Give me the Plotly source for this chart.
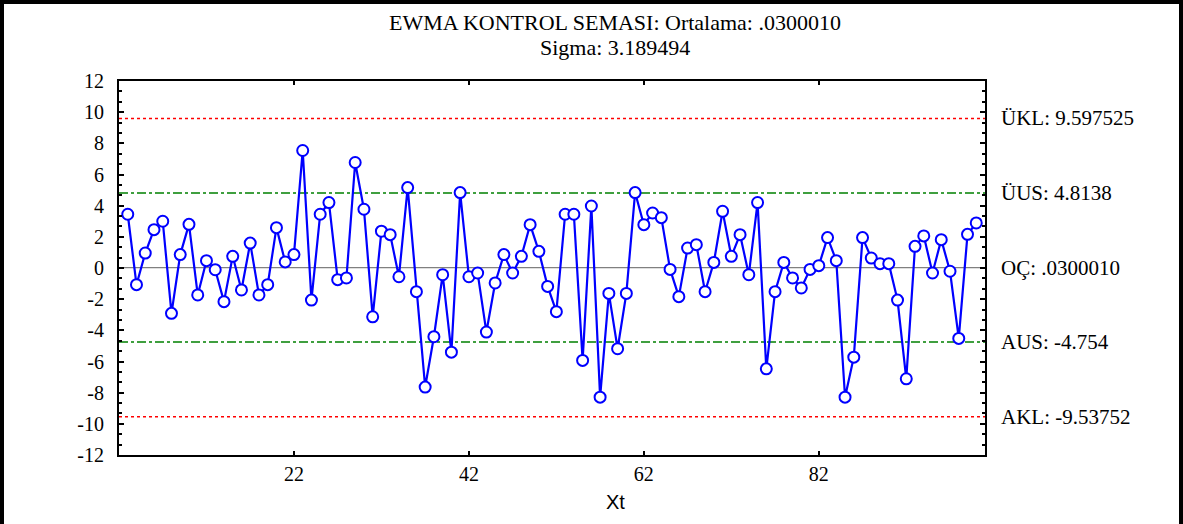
import plotly.graph_objects as go

# ---- data ----
x_vals = list(range(3, 101))
ewma = [3.45, -1.07, 0.96, 2.46, 3.0, -2.91, 0.86, 2.8, -1.73, 0.47,
        -0.11, -2.16, 0.75, -1.41, 1.6, -1.73, -1.07, 2.59, 0.39, 0.86,
        7.54, -2.06, 3.45, 4.2, -0.75, -0.64, 6.77, 3.77, -3.13, 2.36,
        2.14, -0.56, 5.16, -1.52, -7.64, -4.41, -0.43, -5.4, 4.84, -0.56,
        -0.32, -4.11, -0.96, 0.86, -0.32, 0.75, 2.78, 1.07, -1.18, -2.8,
        3.45, 3.45, -5.93, 3.98, -8.29, -1.63, -5.18, -1.63, 4.84, 2.78,
        3.53, 3.23, -0.09, -1.84, 1.28, 1.5, -1.52, 0.36, 3.64, 0.75,
        2.14, -0.43, 4.2, -6.47, -1.52, 0.36, -0.64, -1.28, -0.09, 0.15,
        1.95, 0.47, -8.29, -5.72, 1.95, 0.64, 0.28, 0.28, -2.06, -7.11,
        1.39, 2.06, -0.32, 1.82, -0.21, -4.52, 2.16, 2.89]

limit_values = [9.597525, 4.8138, 0.0300010, -4.754, -9.53752]
limit_labels = ["ÜKL: 9.597525", "ÜUS: 4.8138", "OÇ: .0300010", "AUS: -4.754", "AKL: -9.53752"]
limit_colors = ["red", "green", "gray", "green", "red"]
limit_dash = ["dot", "dashdot", "solid", "dashdot", "dot"]

x_ticks = [22, 42, 62, 82]
y_ticks = list(range(-12, 13, 2))
title1 = "EWMA KONTROL SEMASI: Ortalama: .0300010"
title2 = "Sigma: 3.189494"
x_title = "Xt"

# ---- layout geometry ----
W, H = 1183, 524
ML, MR, MT, MB = 119, W - 985, 81, H - 455
PW, PH = W - ML - MR, H - MT - MB


def px_to_paper_x(px):
    return (px - ML) / PW


def py_to_paper_y(py):
    return (H - MB - py) / PH


SERIF = "Liberation Serif, Times New Roman, Times, serif"
SANS = "Liberation Sans, Arial, sans-serif"

fig = go.Figure()

fig.add_trace(go.Scatter(
    x=x_vals, y=ewma, mode="lines+markers",
    line=dict(color="#0000ff", width=2.2),
    marker=dict(symbol="circle", size=11, color="white",
                line=dict(color="#0000ff", width=2)),
    showlegend=False, hoverinfo="x+y", cliponaxis=False,
))

shapes = []
annotations = []
for v, lab, c, d in zip(limit_values, limit_labels, limit_colors, limit_dash):
    shapes.append(dict(type="line", xref="paper", yref="y", x0=0, x1=1, y0=v, y1=v,
                       line=dict(color=c, width=1.5 if c != "gray" else 1.3, dash=d),
                       layer="below"))
    annotations.append(dict(xref="paper", yref="y", x=1, y=v, xanchor="left", yanchor="middle",
                            xshift=14, text=lab, showarrow=False,
                            font=dict(family=SERIF, size=21, color="black")))

# outer frame (left, top, right)
x_l, x_r = px_to_paper_x(2), px_to_paper_x(W - 2)
y_t, y_b = py_to_paper_y(2), py_to_paper_y(H + 10)
shapes.append(dict(type="path", xref="paper", yref="paper",
                   path=f"M {x_l} {y_b} L {x_l} {y_t} L {x_r} {y_t} L {x_r} {y_b}",
                   line=dict(color="black", width=4)))

annotations.append(dict(xref="paper", yref="paper", x=px_to_paper_x(615), y=py_to_paper_y(22),
                        text=title1, showarrow=False, xanchor="center", yanchor="middle",
                        font=dict(family=SERIF, size=22, color="black")))
annotations.append(dict(xref="paper", yref="paper", x=px_to_paper_x(615), y=py_to_paper_y(47),
                        text=title2, showarrow=False, xanchor="center", yanchor="middle",
                        font=dict(family=SERIF, size=22, color="black")))
annotations.append(dict(xref="paper", yref="paper", x=px_to_paper_x(615), y=py_to_paper_y(502),
                        text=x_title, showarrow=False, xanchor="center", yanchor="middle",
                        font=dict(family=SANS, size=20, color="black")))

fig.update_layout(
    width=W, height=H,
    margin=dict(l=ML, r=MR, t=MT, b=MB, pad=0),
    paper_bgcolor="white", plot_bgcolor="white",
    shapes=shapes, annotations=annotations,
    font=dict(family=SERIF, size=20, color="black"),
)

fig.update_xaxes(
    range=[2, 101], tickmode="array", tickvals=x_ticks, ticktext=[str(t) for t in x_ticks],
    ticks="inside", ticklen=4, tickwidth=2, tickcolor="black",
    showline=True, linecolor="black", linewidth=2, mirror="allticks",
    showgrid=False, zeroline=False, ticklabelstandoff=0,
    tickfont=dict(family=SERIF, size=20, color="black"),
)
fig.update_yaxes(
    range=[-12, 12], tickmode="array", tickvals=y_ticks, ticktext=[str(t) for t in y_ticks],
    ticks="inside", ticklen=5, tickwidth=2, tickcolor="black",
    showline=True, linecolor="black", linewidth=2, mirror="allticks",
    showgrid=False, zeroline=False, ticklabelstandoff=9,
    minor=dict(ticks="inside", ticklen=3, tickwidth=1.5, tickcolor="black", dtick=2 / 3, tick0=0,
               showgrid=False),
    tickfont=dict(family=SERIF, size=20, color="black"),
)

fig.write_html("out.html")
